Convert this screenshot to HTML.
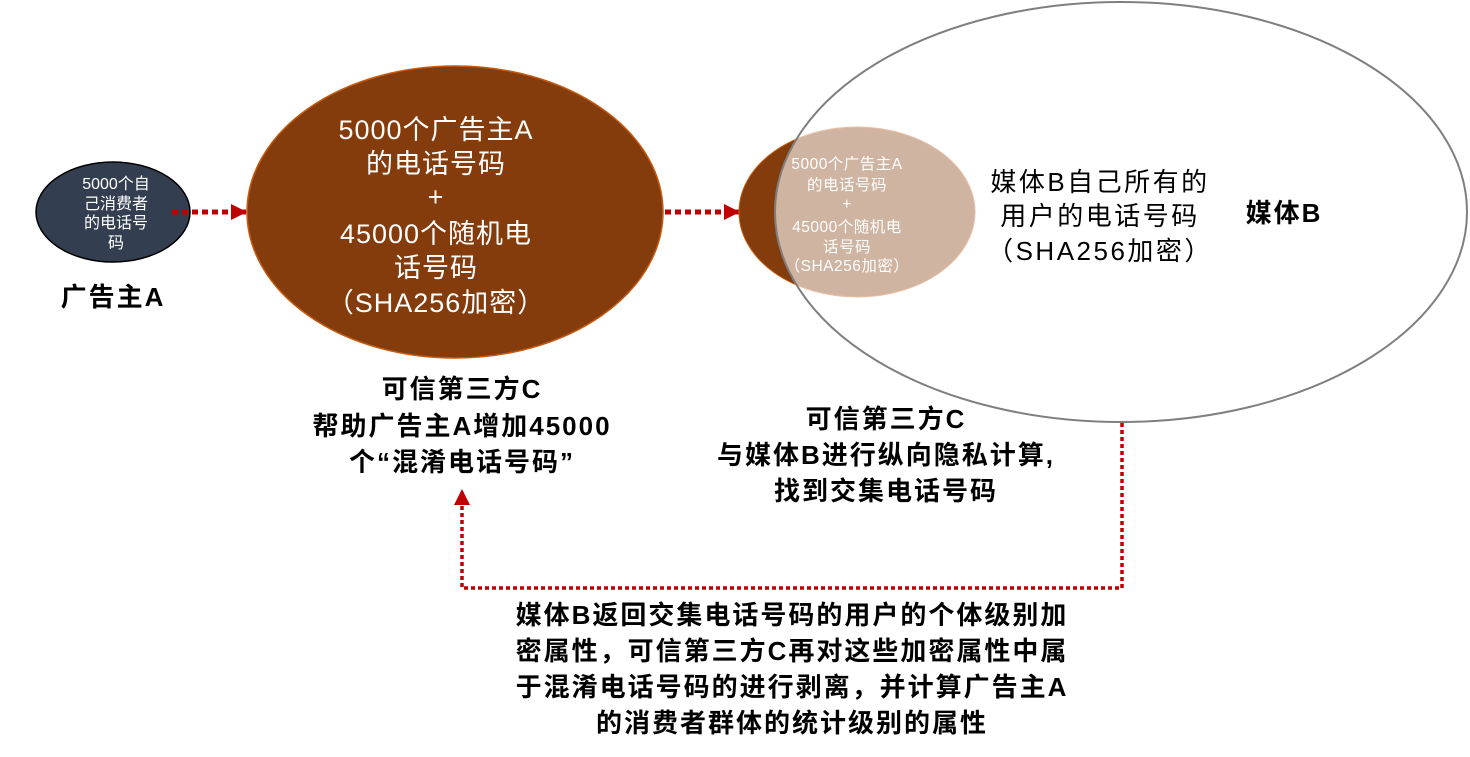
<!DOCTYPE html>
<html><head><meta charset="utf-8"><style>
body{margin:0;background:#fff}
svg{display:block;font-family:"Liberation Sans","Noto Sans CJK SC",sans-serif}
</style></head><body>
<svg width="1470" height="757" viewBox="0 0 1470 757">
<defs>
<marker id="ah" markerWidth="16" markerHeight="16" refX="15" refY="8" orient="auto" markerUnits="userSpaceOnUse" viewBox="0 0 16 16">
<path d="M0,0 L16,8 L0,16 z" fill="#c00000"/></marker>
</defs>
<ellipse cx="113" cy="212" rx="77" ry="50" fill="#333f50" stroke="#000" stroke-width="1.5"/>
<g fill="#fff" font-size="16" text-anchor="middle">
<text x="116" y="189">5000个自</text><text x="116" y="209">己消费者</text><text x="116" y="228">的电话号</text><text x="116" y="248">码</text></g>
<text x="113" y="306" font-size="26" font-weight="bold" letter-spacing="2" text-anchor="middle">广告主A</text>

<ellipse cx="455" cy="212" rx="208" ry="146" fill="#843c0c" stroke="#c55a11" stroke-width="1.5"/>
<g fill="#fff" font-size="27" letter-spacing="1" text-anchor="middle">
<text x="436" y="139">5000个广告主A</text><text x="436" y="173">的电话号码</text><text x="436" y="206">+</text>
<text x="436" y="243">45000个随机电</text><text x="436" y="277">话号码</text><text x="436" y="312">（SHA256加密）</text></g>

<line x1="172" y1="212" x2="246" y2="212" stroke="#c00000" stroke-width="5" stroke-dasharray="6,4" marker-end="url(#ah)"/>
<line x1="665" y1="212" x2="739" y2="212" stroke="#c00000" stroke-width="5" stroke-dasharray="6,4" marker-end="url(#ah)"/>

<ellipse cx="857" cy="212" rx="118" ry="85" fill="#843c0c" stroke="#c55a11" stroke-width="1"/>
<ellipse cx="1121" cy="212" rx="346" ry="210" fill="#fff" fill-opacity="0.62" stroke="#7f7f7f" stroke-width="2"/>
<g fill="#fff" font-size="15.5" letter-spacing="0.5" text-anchor="middle">
<text x="847" y="169">5000个广告主A</text><text x="847" y="190">的电话号码</text><text x="847" y="209">+</text>
<text x="847" y="232">45000个随机电</text><text x="847" y="252">话号码</text><text x="847" y="271">（SHA256加密）</text></g>
<g fill="#000" font-size="26" letter-spacing="2.5" text-anchor="middle">
<text x="1100" y="191">媒体B自己所有的</text><text x="1100" y="225">用户的电话号码</text><text x="1100" y="260">（SHA256加密）</text></g>
<text x="1284" y="222" font-size="26" font-weight="bold" letter-spacing="2" text-anchor="middle">媒体B</text>

<g font-size="26" font-weight="bold" letter-spacing="2" text-anchor="middle">
<text x="462" y="398">可信第三方C</text><text x="462" y="435">帮助广告主A增加45000</text><text x="462" y="471">个“混淆电话号码”</text>
<text x="886" y="428">可信第三方C</text><text x="886" y="464">与媒体B进行纵向隐私计算,</text><text x="886" y="500">找到交集电话号码</text>
<text x="792" y="624">媒体B返回交集电话号码的用户的个体级别加</text>
<text x="792" y="660">密属性，可信第三方C再对这些加密属性中属</text>
<text x="792" y="696">于混淆电话号码的进行剥离，并计算广告主A</text>
<text x="792" y="732">的消费者群体的统计级别的属性</text></g>

<polyline points="1122,423 1122,588 462,588 462,490" fill="none" stroke="#c00000" stroke-width="3.5" stroke-dasharray="4,3" marker-end="url(#ah)"/>
</svg>
</body></html>
